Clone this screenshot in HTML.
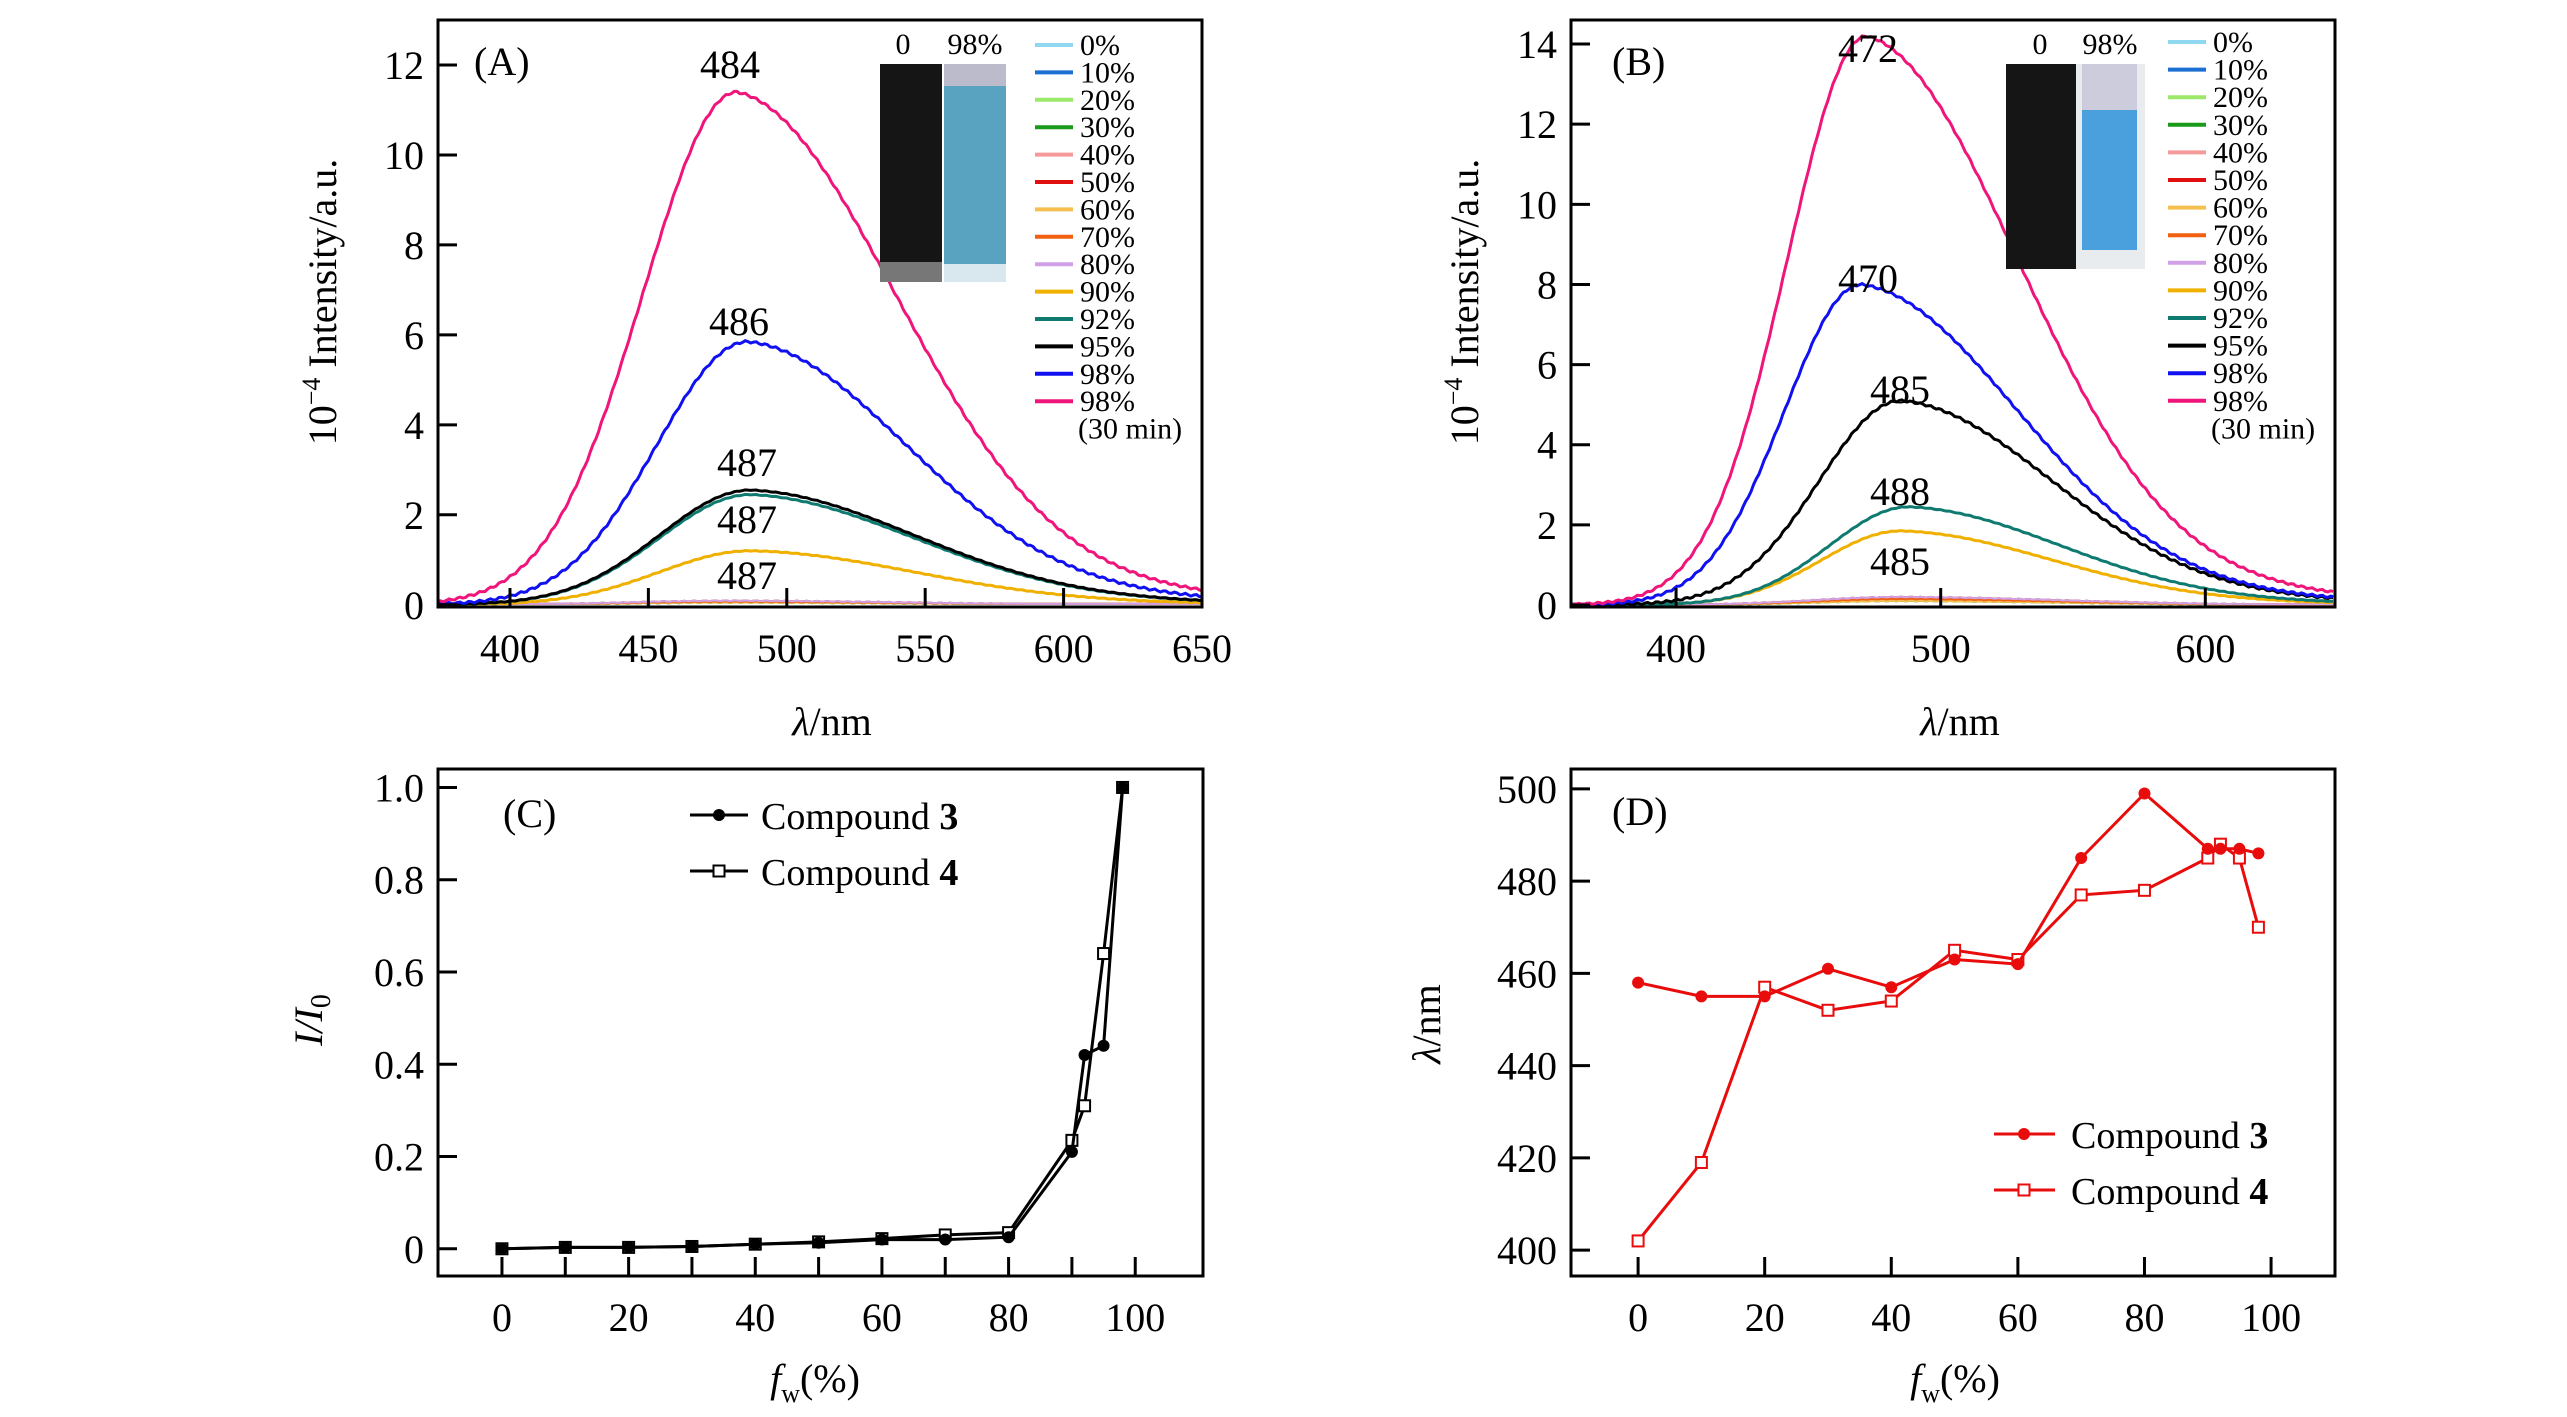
<!DOCTYPE html>
<html><head><meta charset="utf-8"><style>
html,body{margin:0;padding:0;background:#fff}
svg{display:block}
svg text{font-family:"Liberation Serif","Times New Roman",serif;fill:#000}
</style></head><body>
<svg id="s" width="2567" height="1417" viewBox="0 0 2567 1417" xmlns="http://www.w3.org/2000/svg" font-family="Liberation Serif, serif"></svg>
<script>
const S=document.getElementById('s');let h='';
function ax(o){return {X:v=>o.l+(v-o.x0)/(o.x1-o.x0)*(o.r-o.l),Y:v=>o.b-(v-o.y0)/(o.y1-o.y0)*(o.b-o.t),o}}
function T(x,y,fs,s,extra){return `<text x="${x}" y="${y}" font-size="${fs}" font-family="Liberation Serif, serif" ${extra||''}>${s}</text>`}
function frame(a,xt,yt,xl,yl){const o=a.o;
h+=`<rect x="${o.l}" y="${o.t}" width="${o.r-o.l}" height="${o.b-o.t}" fill="none" stroke="#000" stroke-width="3"/>`;
xt.forEach(v=>{const x=a.X(v);h+=`<line x1="${x}" y1="${o.b}" x2="${x}" y2="${o.b-19}" stroke="#000" stroke-width="3"/>`+T(x,o.b+55,40,v,'text-anchor="middle"')});
yt.forEach(v=>{const y=a.Y(v);h+=`<line x1="${o.l}" y1="${y}" x2="${o.l+19}" y2="${y}" stroke="#000" stroke-width="3"/>`+T(o.l-14,y+14,40,yl?yl(v):v,'text-anchor="end"')});}
function spec(a,A,pk,sl,sr,col,w){let d='';for(let x=a.o.x0;x<=a.o.x1;x+=1){const dd=x-pk;let f=dd<0?Math.exp(-dd*dd/(2*sl*sl)):0.9*Math.exp(-dd*dd/(2*sr*sr))+0.1*Math.exp(-dd/90);
let y=A*f+0.08*Math.sin(x*1.7)*(A>3?0.3:0.1);d+=(d?'L':'M')+a.X(x).toFixed(1)+' '+a.Y(Math.max(y,0.02)).toFixed(1);}
h+=`<path d="${d}" fill="none" stroke="${col}" stroke-width="${w||3}"/>`;}
const cols=['#8fd8f0','#1b6fd0','#9be86a','#1a9a1a','#f59a9a','#e01010','#f5c050','#f06010','#d0a0e8','#f0b000','#0e7a70','#000','#1010f0','#f0157a'];
const labs=['0%','10%','20%','30%','40%','50%','60%','70%','80%','90%','92%','95%','98%','98%'];
function legend(lx,tx,y0,st){labs.forEach((l,i)=>{const y=y0+i*st;h+=`<line x1="${lx}" y1="${y}" x2="${lx+38}" y2="${y}" stroke="${cols[i]}" stroke-width="4"/>`+T(tx,y+10,30,l)});
h+=T(tx-2,y0+14*st+10,30,'(30 min)');}
// Panel A
let A=ax({l:438,r:1202,t:20,b:607,x0:374,x1:650,y0:-0.05,y1:13});
for(let i=0;i<9;i++)spec(A,0.05+0.02*(i%3),480,36,60,cols[i],2);
spec(A,1.2,487,33,60,cols[9]);spec(A,2.45,487,33,60,cols[10]);spec(A,2.55,487,33,60,cols[11]);spec(A,5.85,486,33,58,cols[12]);spec(A,11.4,482,34,58,cols[13]);
frame(A,[400,450,500,550,600,650],[0,2,4,6,8,10,12]);
h+=T(474,75,40,'(A)');
h+=`<rect x="880" y="64" width="62" height="218" fill="#151515"/><rect x="944" y="64" width="62" height="218" fill="#5aa3c0"/><rect x="944" y="64" width="62" height="22" fill="#bbc"/><rect x="880" y="262" width="62" height="20" fill="#777"/><rect x="944" y="264" width="62" height="18" fill="#d8e8ee"/>`;
h+=T(903,54,30,'0','text-anchor="middle"')+T(975,54,30,'98%','text-anchor="middle"');
legend(1035,1080,45,27.4);
[[730,78,'484'],[739,335,'486'],[747,476,'487'],[747,533,'487'],[747,589,'487']].forEach(t=>h+=T(t[0],t[1],40,t[2],'text-anchor="middle"'));
h+=`<text transform="translate(336,302) rotate(-90)" font-size="40" font-family="Liberation Serif, serif" text-anchor="middle">10<tspan dy="-16" font-size="26">−4</tspan><tspan dy="16"> Intensity/a.u.</tspan></text>`;
h+=T(832,735,40,'<tspan font-style="italic">λ</tspan>/nm','text-anchor="middle"');
// Panel B
let B=ax({l:1571,r:2335,t:20,b:607,x0:360.3,x1:649,y0:-0.05,y1:14.6});
for(let i=0;i<9;i++)spec(B,0.1+0.05*(i%3),485,33,60,cols[i],2);
spec(B,1.85,485,30,58,cols[9]);spec(B,2.45,488,30,58,cols[10]);spec(B,5.1,485,31,58,cols[11]);spec(B,8.0,470,29,60,cols[12]);spec(B,14.2,472,30,58,cols[13]);
frame(B,[400,500,600],[0,2,4,6,8,10,12,14]);
h+=T(1612,75,40,'(B)');
h+=`<rect x="2006" y="64" width="70" height="205" fill="#151515"/><rect x="2076" y="64" width="69" height="205" fill="#e8ecef"/><rect x="2082" y="110" width="55" height="140" fill="#4aa0dc"/><rect x="2082" y="64" width="55" height="46" fill="#ccd"/>`;
h+=T(2040,54,30,'0','text-anchor="middle"')+T(2110,54,30,'98%','text-anchor="middle"');
legend(2168,2213,42,27.6);
[[1868,62,'472'],[1868,292,'470'],[1900,403,'485'],[1900,505,'488'],[1900,575,'485']].forEach(t=>h+=T(t[0],t[1],40,t[2],'text-anchor="middle"'));
h+=`<text transform="translate(1478,302) rotate(-90)" font-size="40" font-family="Liberation Serif, serif" text-anchor="middle">10<tspan dy="-16" font-size="26">−4</tspan><tspan dy="16"> Intensity/a.u.</tspan></text>`;
h+=T(1960,735,40,'<tspan font-style="italic">λ</tspan>/nm','text-anchor="middle"');
// Panel C
const fx=[0,10,20,30,40,50,60,70,80,90,92,95,98];
let C=ax({l:438,r:1203,t:769,b:1276,x0:-10.1,x1:110.7,y0:-0.059,y1:1.04});
frame(C,[0,20,40,60,80,100],[0,0.2,0.4,0.6,0.8,1.0],0,v=>v==0?'0':v.toFixed(1));
[10,30,50,70,90].forEach(v=>{h+=`<line x1="${C.X(v)}" y1="1276" x2="${C.X(v)}" y2="1257" stroke="#000" stroke-width="3"/>`});
function series(a,ys,col,filled){let d=fx.map((x,i)=>(i?'L':'M')+a.X(x).toFixed(1)+' '+a.Y(ys[i]).toFixed(1)).join('');
h+=`<path d="${d}" fill="none" stroke="${col}" stroke-width="3"/>`;
fx.forEach((x,i)=>{const X=a.X(x),Y=a.Y(ys[i]);h+=filled?`<circle cx="${X}" cy="${Y}" r="6" fill="${col}"/>`:`<rect x="${X-5.5}" y="${Y-5.5}" width="11" height="11" fill="#fff" stroke="${col}" stroke-width="2"/>`;});}
series(C,[0,0.003,0.003,0.005,0.01,0.015,0.022,0.03,0.035,0.235,0.31,0.64,1.0],'#000',false);
series(C,[0,0.003,0.003,0.005,0.01,0.013,0.02,0.02,0.025,0.21,0.42,0.44,1.0],'#000',true);
h+=T(503,827,40,'(C)');
h+=`<line x1="690" y1="815" x2="748" y2="815" stroke="#000" stroke-width="3"/><circle cx="719" cy="815" r="6"/>`+T(761,829,38,'Compound <tspan font-weight="bold">3</tspan>');
h+=`<line x1="690" y1="871" x2="748" y2="871" stroke="#000" stroke-width="3"/><rect x="713.5" y="865.5" width="11" height="11" fill="#fff" stroke="#000" stroke-width="2"/>`+T(761,885,38,'Compound <tspan font-weight="bold">4</tspan>');
h+=`<text transform="translate(322,1020) rotate(-90)" font-size="40" font-family="Liberation Serif, serif" text-anchor="middle" font-style="italic">I/I<tspan font-size="28" dy="8" font-style="normal">0</tspan></text>`;
h+=T(815,1392,40,'<tspan font-style="italic">f</tspan><tspan font-size="26" dy="10">w</tspan><tspan dy="-10">(%)</tspan>','text-anchor="middle"');
// Panel D
let D=ax({l:1571,r:2335,t:769,b:1276,x0:-10.6,x1:110.1,y0:394.4,y1:504.3});
frame(D,[0,20,40,60,80,100],[400,420,440,460,480,500]);
series(D,[402,419,457,452,454,465,463,477,478,485,488,485,470],'#e80c0c',false);
series(D,[458,455,455,461,457,463,462,485,499,487,487,487,486],'#e80c0c',true);
h+=T(1612,825,40,'(D)');
h+=`<line x1="1994" y1="1134" x2="2055" y2="1134" stroke="#e80c0c" stroke-width="3"/><circle cx="2024" cy="1134" r="6" fill="#e80c0c"/>`+T(2071,1148,38,'Compound <tspan font-weight="bold">3</tspan>');
h+=`<line x1="1994" y1="1190" x2="2055" y2="1190" stroke="#e80c0c" stroke-width="3"/><rect x="2018.5" y="1184.5" width="11" height="11" fill="#fff" stroke="#e80c0c" stroke-width="2"/>`+T(2071,1204,38,'Compound <tspan font-weight="bold">4</tspan>');
h+=`<text transform="translate(1440,1024) rotate(-90)" font-size="40" font-family="Liberation Serif, serif" text-anchor="middle"><tspan font-style="italic">λ</tspan>/nm</text>`;
h+=T(1955,1392,40,'<tspan font-style="italic">f</tspan><tspan font-size="26" dy="10">w</tspan><tspan dy="-10">(%)</tspan>','text-anchor="middle"');
S.innerHTML=h;
</script>
</body></html>
